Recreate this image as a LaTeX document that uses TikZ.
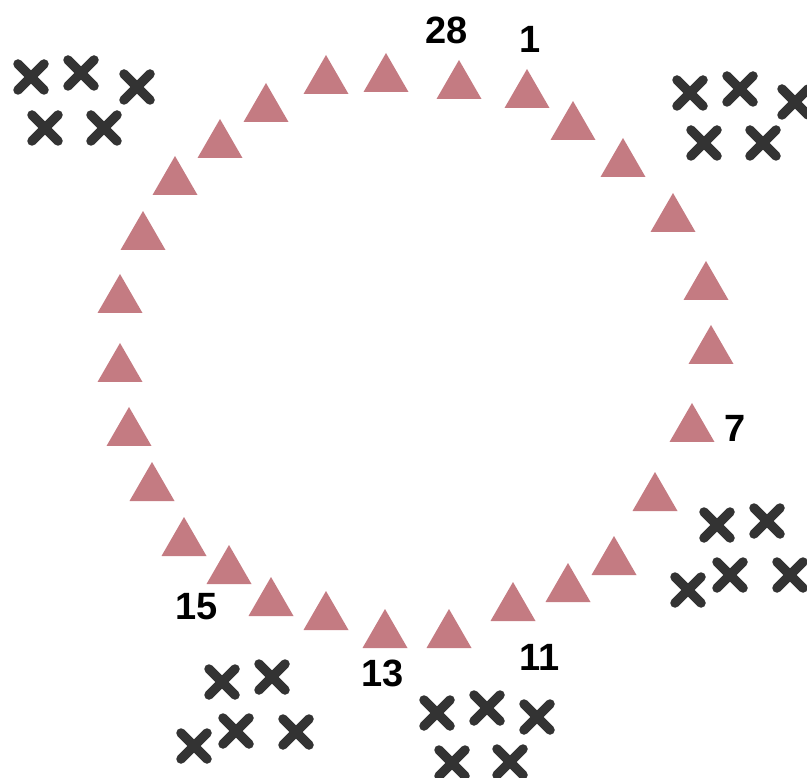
\documentclass[tikz,border=0pt]{standalone}
\usepackage{fontspec}
\setmainfont{Liberation Sans}
\usetikzlibrary{calc}
\definecolor{tri}{HTML}{C47B82}
\definecolor{crs}{HTML}{333333}
\begin{document}
\begin{tikzpicture}[x=1pt,y=-1pt,
  lbl/.style={font=\fontsize{38}{40}\selectfont\bfseries, inner sep=0pt, text=black},
  trishape/.style={fill=tri},
  crossline/.style={draw=crs, line width=9.5pt, line cap=round}]
\useasboundingbox (0,0) rectangle (807,778);
% triangles
\foreach \x/\y [count=\i] in {527/69,573/101,623/138,673/193,706/261,711/325,692/403,655/472,614/536,568/563,513/582,449/609,385/609,326/591,271/577,229/545,184/517,152/462,129/407,120/343,120/274,143/211,175/156,220/119,266/83,326/55,386/53,459/60}{
  \coordinate (t\i) at (\x,\y);
  \fill[trishape] (t\i) -- ++(22.5,39) -- ++(-45,0) -- cycle;
}
% crosses
\foreach \x/\y [count=\i] in {31/77,81/73,137/87,45/128,104/128,
  690/93,740/89,795/102,704/143,763/143,
  717/525,767/521,688/590,730/575,790/575,
  437/713,487/708,537/717,452/763,510/762,
  222/682,272/677,194/746,236/731,296/732}{
  \coordinate (c\i) at (\x,\y);
  \draw[crossline] ($(c\i)+(-13,-13)$) -- ($(c\i)+(13,13)$);
  \draw[crossline] ($(c\i)+(-13,13)$) -- ($(c\i)+(13,-13)$);
}
% labels
\node[lbl] (l28) at (447,30) {28};
\node[lbl] (l1) at (530,39) {1};
\node[lbl] (l7) at (735,428) {7};
\node[lbl] (l11) at (540,657) {11};
\node[lbl] (l13) at (383,673) {13};
\node[lbl] (l15) at (197,607) {15};
\end{tikzpicture}
\end{document}
